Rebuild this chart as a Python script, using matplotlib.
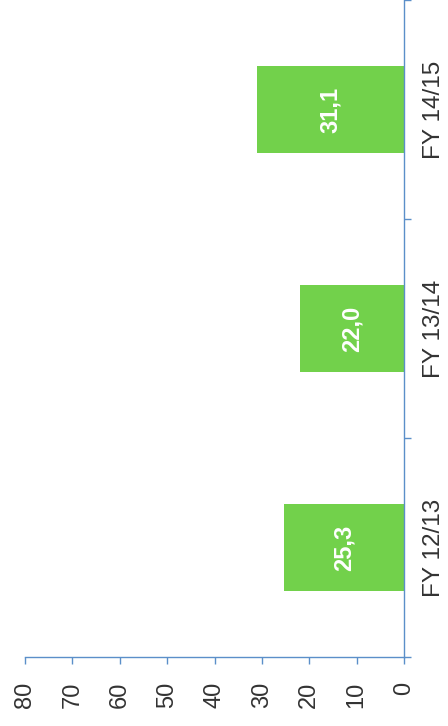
import matplotlib.pyplot as plt
import numpy as np

# data
categories = ["FY 12/13", "FY 13/14", "FY 14/15"]
values = [25.3, 22.0, 31.1]
value_labels = ["25,3", "22,0", "31,1"]
value_ticks = [0, 10, 20, 30, 40, 50, 60, 70, 80]

bar_color = '#72d14b'
axis_color = '#5b8fc9'
text_color = '#333333'

plt.rcParams['font.family'] = ['Liberation Sans', 'DejaVu Sans']

fig = plt.figure(figsize=(4.48, 7.26), dpi=100)
ax = fig.add_axes([25/448, 69/726, 379/448, 657/726])

pos = np.arange(len(categories))
ax.barh(pos, values, height=0.4, color=bar_color)

# value labels inside bars, turned like the rest of the chart
for p, v, lab in zip(pos, values, value_labels):
    ax.text(v/2, p, lab, rotation=90, ha='center', va='center',
            color='white', fontsize=17, fontweight='bold')

ax.set_xlim(80, 0)
ax.set_ylim(-0.5, len(categories) - 0.5)

# spines
for s in ['top', 'left']:
    ax.spines[s].set_visible(False)
for s in ['right', 'bottom']:
    ax.spines[s].set_color(axis_color)
    ax.spines[s].set_linewidth(1.0)

# value axis at the bottom
ax.set_xticks(value_ticks)
ax.set_xticklabels([str(t) for t in value_ticks], rotation=90)
ax.tick_params(axis='x', direction='out', length=5, width=1.0,
               color=axis_color, labelcolor=text_color, labelsize=17, pad=13)

# category axis on the right
ax.yaxis.tick_right()
ax.set_yticks(pos)
ax.set_yticklabels(categories, rotation=90)
ax.set_yticks(np.arange(-0.5, len(categories), 1.0), minor=True)
ax.tick_params(axis='y', which='major', length=0, labelcolor=text_color,
               labelsize=17.5, pad=14)
ax.tick_params(axis='y', which='minor', direction='out', length=5,
               width=1.0, color=axis_color)
for lab in ax.get_yticklabels():
    lab.set_va('center')

fig.savefig('out.png', dpi=100)
